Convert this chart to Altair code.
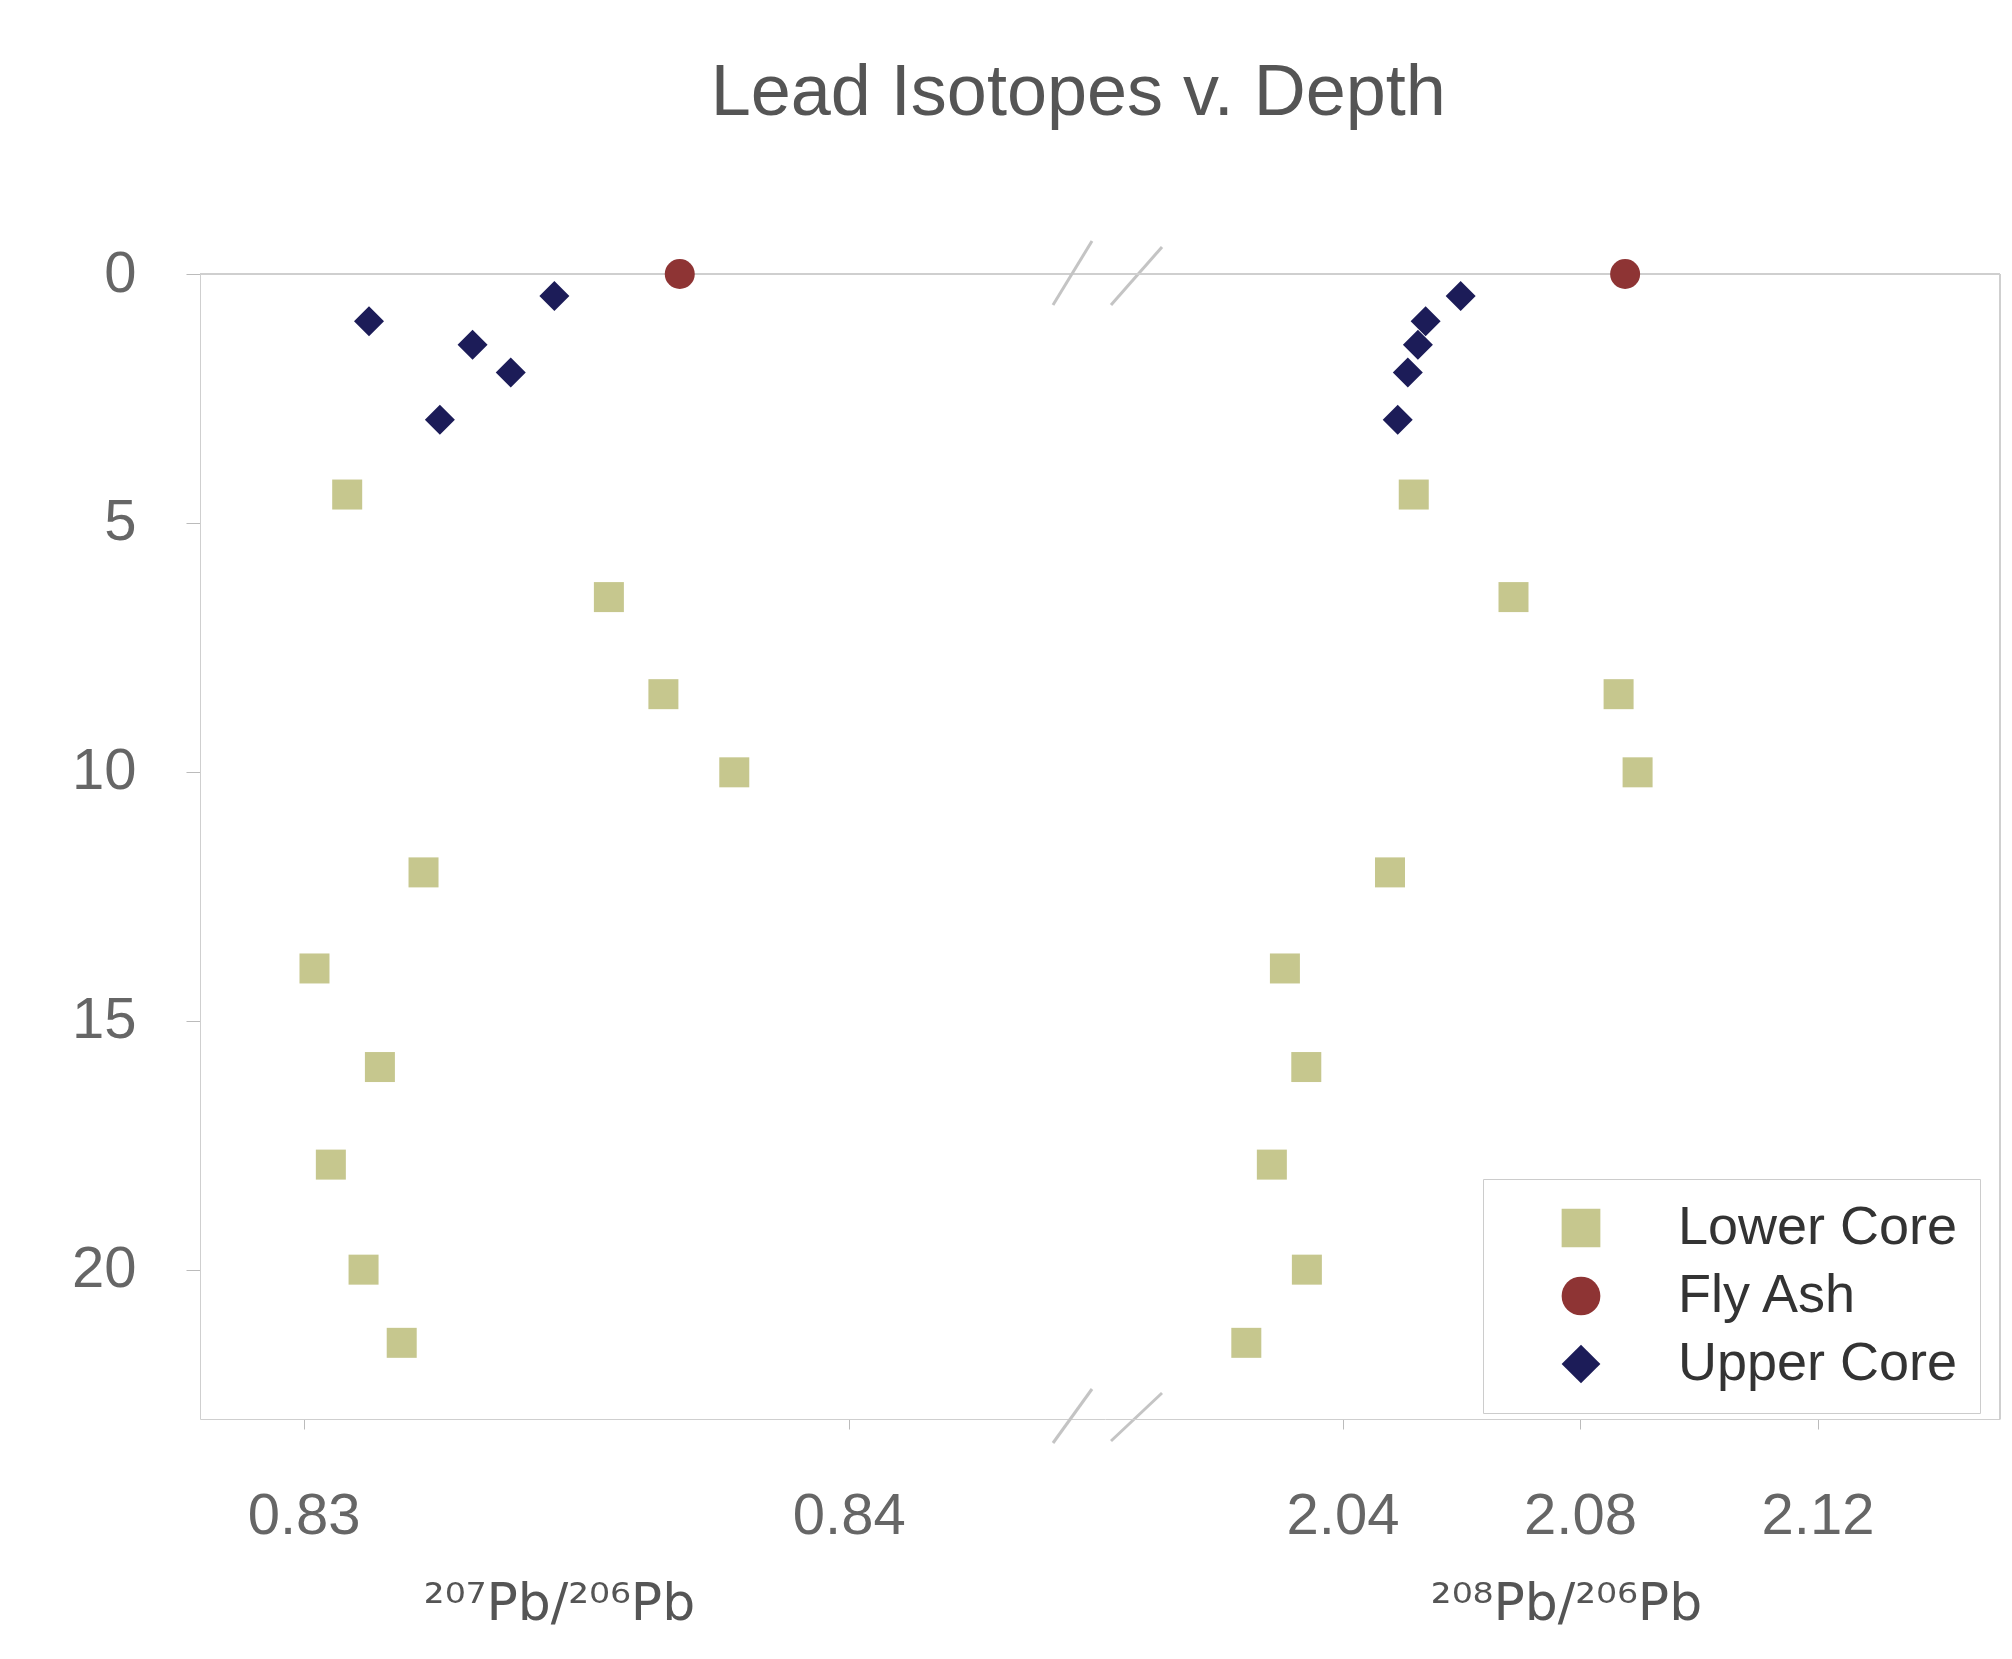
import altair as alt
import pandas as pd

# ---------------- data ----------------
groups_order = ["Lower Core", "Fly Ash", "Upper Core"]
group_colors = ["#c6c78e", "#8e3434", "#1c1c58"]
group_shapes = ["square", "circle", "diamond"]

upper_depth = [0.44, 0.95, 1.42, 1.98, 2.93]
upper_pb207 = [0.8346, 0.8312, 0.8331, 0.8338, 0.8325]
upper_pb208 = [2.0599, 2.0540, 2.0527, 2.0510, 2.0493]

fly_depth = [0.0]
fly_pb207 = [0.8369]
fly_pb208 = [2.0876]

lower_depth = [4.43, 6.49, 8.44, 10.01, 12.02, 13.95, 15.93, 17.89, 20.0, 21.47]
lower_pb207 = [0.8308, 0.8356, 0.8366, 0.8379, 0.8322, 0.8302, 0.8314, 0.8305, 0.8311, 0.8318]
lower_pb208 = [2.0520, 2.0688, 2.0865, 2.0897, 2.0480, 2.0303, 2.0339, 2.0281, 2.0340, 2.0238]

y_ticks = [0, 5, 10, 15, 20]
left_ticks = [0.83, 0.84]
right_ticks = [2.04, 2.08, 2.12]

rows = []
for name, d, a, b in [("Upper Core", upper_depth, upper_pb207, upper_pb208),
                      ("Fly Ash", fly_depth, fly_pb207, fly_pb208),
                      ("Lower Core", lower_depth, lower_pb207, lower_pb208)]:
    for di, ai, bi in zip(d, a, b):
        rows.append({"group": name, "depth": di, "pb207": ai, "pb208": bi})
df = pd.DataFrame(rows)
dummy = pd.DataFrame({"k": [0]})

W_L, W_R, H = 905, 895, 1145
FONT = "Liberation Sans"
FRAME = "#cfcfcf"

legend = alt.Legend(orient="none", legendX=1283, legendY=905, title=None,
                    labelFontSize=54, labelFont=FONT, labelColor="#333", labelLimit=600,
                    symbolSize=1500, symbolStrokeWidth=0, fillColor="white",
                    strokeColor="#cccccc", padding=22, rowPadding=14,
                    labelOffset=70, symbolOffset=49)
color = alt.Color("group:N", scale=alt.Scale(domain=groups_order, range=group_colors), legend=legend)
shape = alt.Shape("group:N", scale=alt.Scale(domain=groups_order, range=group_shapes), legend=legend)

y_left = alt.Y("depth:Q", scale=alt.Scale(domain=[0, 23], reverse=True, nice=False, zero=False),
               axis=alt.Axis(values=y_ticks, title=None, tickSize=14, labelPadding=50,
                             labelFontSize=58, labelFont=FONT, labelColor="#666",
                             domainColor=FRAME, tickColor="#bbbbbb", grid=False))
y_right = alt.Y("depth:Q", scale=alt.Scale(domain=[0, 23], reverse=True, nice=False, zero=False), axis=None)

def xaxis(title, tx, vals):
    return alt.Axis(values=vals, format=".2f", title=title, titleX=tx, titleY=184,
                    titleBaseline="middle", titleAlign="center", titleFontSize=52,
                    titleFont="DejaVu Sans", titleFontWeight="normal", titleColor="#555",
                    tickSize=10, labelPadding=58, labelFontSize=58, labelFont=FONT,
                    labelColor="#666", domainColor=FRAME, tickColor="#bbbbbb", grid=False)

pts_left = alt.Chart(df).mark_point(filled=True, size=900, opacity=1).encode(
    x=alt.X("pb207:Q", scale=alt.Scale(domain=[0.8281, 0.8447], nice=False, zero=False),
            axis=xaxis("²⁰⁷Pb/²⁰⁶Pb", 359, left_ticks)),
    y=y_left, color=color, shape=shape)

pts_right = alt.Chart(df).mark_point(filled=True, size=900, opacity=1).encode(
    x=alt.X("pb208:Q", scale=alt.Scale(domain=[2.0, 2.0 + W_R * 0.04 / 237.5], nice=False, zero=False),
            axis=xaxis("²⁰⁸Pb/²⁰⁶Pb", 461, right_ticks)),
    y=y_right, color=color, shape=shape)

def rule(x, x2, y, y2, c=FRAME, w=2):
    return alt.Chart(dummy).mark_rule(color=c, strokeWidth=w).encode(
        x=alt.value(x), x2=alt.value(x2), y=alt.value(y), y2=alt.value(y2))

SL = "#c4c4c4"
left = alt.layer(
    rule(0, W_L, 0, 0),
    rule(853, 892, 31, -33, SL, 3), rule(911, 962, 31, -27, SL, 3),
    rule(853, 892, H + 24, H - 30, SL, 3), rule(911, 962, H + 22, H - 26, SL, 3),
    pts_left,
).properties(width=W_L, height=H)

right = alt.layer(
    rule(0, W_R, 0, 0),
    rule(W_R, W_R, 0, H),
    pts_right,
).properties(width=W_R, height=H)

chart = alt.hconcat(left, right, spacing=0, bounds="flush").properties(
    title=alt.TitleParams("Lead Isotopes v. Depth", fontSize=72, font=FONT,
                          fontWeight="normal", color="#555", anchor="middle", offset=110, dx=42),
    padding={"left": 71, "top": 56, "right": 0, "bottom": 60},
    background="white",
).configure_view(stroke="transparent", strokeWidth=0)

chart.save("out.html", embed_options={"renderer": "svg", "actions": False})
